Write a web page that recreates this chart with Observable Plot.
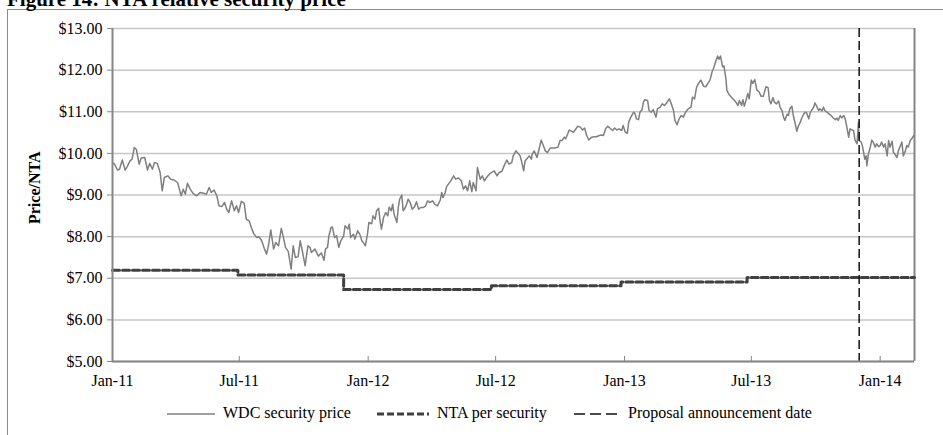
<!DOCTYPE html>
<html><head><meta charset="utf-8">
<script src="https://cdn.jsdelivr.net/npm/d3@7"></script>
<script src="https://cdn.jsdelivr.net/npm/@observablehq/plot@0.6"></script>
<style>
body{margin:0;background:#fff;}
#wrap{position:relative;width:943px;height:435px;overflow:hidden;font-family:"Liberation Serif","Times New Roman",serif;color:#000;background:#fff;}
#title{position:absolute;left:7px;top:-11px;font-size:21px;font-weight:bold;line-height:21px;white-space:nowrap;z-index:2;}
#frame{position:absolute;left:7px;top:9px;width:980px;height:480px;border-top:1.5px solid #8c8c8c;border-left:1.5px solid #8c8c8c;z-index:1;}
#chart{position:absolute;left:0;top:0;z-index:3;}
#legend{position:absolute;top:403px;left:0;width:943px;height:22px;font-size:16px;z-index:3;}
#legend .it{position:absolute;top:0;display:flex;align-items:center;white-space:nowrap;}
#legend svg{margin-right:4px;}
</style></head>
<body>
<div id="wrap">
  <div id="frame"></div>
  <div id="title">Figure 14: NTA relative security price</div>
  <div id="chart"></div>
  <div id="legend"></div>
</div>
<script>
// ---- data ----
const startDate = "2011-01-01";
const endDate = "2014-02-19";
const announcementDate = "2013-12-02";

// day offsets since startDate and WDC security price
const priceDays = [0,3,7,10,14,18,21,25,28,31,34,38,41,46,50,53,57,60,64,68,71,74,79,83,88,93,98,101,104,107,111,115,120,125,130,134,138,141,145,149,152,156,160,163,166,170,174,177,180,184,188,191,195,199,202,206,209,213,217,220,223,226,230,233,237,241,244,247,251,255,258,261,265,268,271,275,279,282,
284,289,294,298,302,304,307,309,312,314,317,320,323,326,330,332,336,338,340,344,346,350,353,356,358,361,364,366,370,372,375,377,380,382,384,387,390,393,395,398,400,402,406,408,410,413,415,418,420,422,425,428,431,434,437,440,444,447,450,453,457,460,464,468,470,472,475,477,479,483,487,490,494,498,501,504,507,510,513,515,519,521,525,528,531,534,538,541,545,549,552,556,559,563,566,570,
572,576,578,582,584,587,589,591,595,598,599,602,606,609,612,615,618,621,625,628,632,636,639,642,645,647,650,652,656,658,660,664,668,671,674,677,680,684,688,691,695,698,701,704,707,710,714,717,720,723,727,729,732,735,737,740,744,746,748,751,753,756,758,760,764,766,769,772,776,778,782,785,788,791,795,797,801,803,806,809,812,815,818,822,826,828,831,834,837,840,844,847,850,853,856,
858,861,864,866,868,871,873,876,877,880,884,888,890,893,895,898,900,902,905,907,909,912,914,917,920,923,926,929,933,936,938,940,943,945,948,951,953,956,958,960,963,965,967,970,972,975,977,979,982,984,987,989,991,994,996,998,1001,1003,1006,1008,1010,1013,1015,1017,1020,1023,1026,1029,1032,1034,1036,1039,1041,1044,1046,1048,1051,1053,1056,1058,1060,1063,1065,1066,1069,1071,1074,1076,1077,1079,1082,1084,1086,1089,1091,1094,1096,1098,1101,1103,1106,1108,1110,1113,1115,1117,1120,1122,1125,1127,1129,1132,1134,1136,1139,1141,1144];
const prices = [9.78,9.74,9.60,9.62,9.84,9.60,9.68,9.82,9.86,10.14,10.10,9.74,9.89,9.90,9.60,9.76,9.62,9.78,9.76,9.54,9.10,9.42,9.46,9.38,9.36,9.30,8.98,9.14,9.02,9.28,9.14,9.04,8.98,9.06,9.04,9.02,9.18,9.06,9.12,8.98,8.74,8.72,8.82,8.66,8.58,8.86,8.62,8.74,8.58,8.85,8.80,8.42,8.38,8.18,8.06,7.98,8.00,7.90,7.70,7.58,7.82,8.16,7.70,7.86,7.78,8.20,7.98,7.74,7.64,7.22,7.78,7.50,7.52,7.90,7.66,7.30,7.78,7.74,
7.62,7.70,7.53,7.61,7.43,7.70,7.74,8.02,8.22,8.23,7.98,8.02,7.74,7.90,8.02,8.26,8.18,8.30,7.98,8.06,7.94,8.14,8.06,7.90,7.86,7.78,8.06,8.34,8.31,8.50,8.42,8.62,8.68,8.38,8.18,8.46,8.58,8.50,8.71,8.62,8.78,8.54,8.34,8.70,8.90,9.00,8.62,8.70,8.78,8.90,8.82,8.66,8.71,8.84,8.66,8.70,8.70,8.74,8.86,8.82,8.86,8.78,8.74,8.88,9.06,8.94,9.06,9.20,9.25,9.34,9.46,9.38,9.41,9.34,9.14,9.22,9.10,9.34,9.08,9.30,9.10,9.66,9.38,9.46,9.34,9.42,9.50,9.54,9.58,9.46,9.54,9.57,9.70,9.84,9.74,9.78,
9.94,10.06,10.02,9.94,9.81,9.58,9.82,9.86,9.94,9.86,9.97,10.06,9.90,10.10,10.32,10.19,10.06,10.02,10.13,10.13,10.13,10.15,10.31,10.31,10.39,10.35,10.47,10.56,10.53,10.51,10.55,10.65,10.63,10.56,10.61,10.43,10.32,10.39,10.40,10.40,10.43,10.44,10.43,10.59,10.65,10.61,10.55,10.61,10.56,10.59,10.55,10.67,10.51,10.48,10.75,10.87,10.99,10.95,10.83,10.81,10.99,11.05,11.23,11.29,11.27,11.03,10.99,11.05,10.87,11.07,11.11,11.19,11.15,11.21,11.31,11.23,11.03,10.79,10.69,10.83,10.91,10.87,10.99,11.07,11.11,11.35,11.31,11.60,11.69,11.76,11.61,11.60,11.68,11.76,11.96,
12.04,12.20,12.34,12.26,12.34,12.08,12.10,11.76,11.52,11.42,11.34,11.27,11.23,11.15,11.27,11.15,11.29,11.13,11.31,11.44,11.31,11.76,11.68,11.77,11.52,11.48,11.37,11.37,11.60,11.58,11.27,11.19,11.34,11.23,11.19,11.26,11.11,11.02,10.87,10.79,10.94,10.91,11.07,11.13,10.91,10.69,10.53,10.65,10.75,10.85,10.95,10.99,10.97,10.83,10.97,11.03,11.11,11.21,11.11,11.03,11.07,11.02,11.11,11.03,10.99,10.95,10.91,10.85,10.81,10.85,10.79,10.91,10.85,10.91,10.83,10.67,10.39,10.59,10.56,10.55,10.32,10.23,10.75,10.31,10.27,10.15,9.86,9.94,9.70,9.97,10.16,10.32,10.27,10.15,10.23,10.16,10.19,10.27,10.15,10.23,9.94,10.31,10.15,10.29,10.02,9.98,9.90,10.06,10.19,10.27,9.94,10.06,10.19,10.15,10.31,10.35,10.43];

// NTA per security (step series)
const ntaDates = ["2011-01-01","2011-06-29","2011-11-27","2012-06-25","2012-12-27","2013-06-25","2014-02-19"];
const ntaValues = [7.19,7.08,6.73,6.82,6.91,7.02,7.02];

// axis ticks
const xTickDates = ["2011-01-01","2011-07-01","2012-01-01","2012-07-01","2013-01-01","2013-07-01","2014-01-01"];
const yTicks = [5,6,7,8,9,10,11,12,13];

// legend labels
const legendLabels = ["WDC security price","NTA per security","Proposal announcement date"];

// ---- build ----
const parse = d3.utcParse("%Y-%m-%d");
const t0 = parse(startDate), t1 = parse(endDate);
const priceData = priceDays.map((d,i)=>({date:d3.utcDay.offset(t0,d), value:prices[i]}));
const ntaData = ntaDates.map((d,i)=>({date:parse(d), value:ntaValues[i]}));
const xTicks = xTickDates.map(parse);
const ann = parse(announcementDate);

const font = '"Liberation Serif","Times New Roman",serif';
const chart = Plot.plot({
  width: 943, height: 395,
  marginLeft: 112, marginRight: 29, marginTop: 28, marginBottom: 34,
  style: {fontFamily: font, fontSize: "16px", color: "#000", background: "transparent", overflow: "visible"},
  x: {type: "utc", domain: [t0, t1]},
  y: {domain: [5, 13]},
  marks: [
    Plot.gridY(yTicks, {stroke: "#c6c6c6", strokeOpacity: 1, strokeWidth: 1.5}),
    Plot.ruleX([t1], {stroke: "#858585", strokeWidth: 2}),
    Plot.axisY(yTicks, {tickFormat: d => "$" + d.toFixed(2), tickSize: 5, tickPadding: 5, stroke: "#858585", fill: "#000", fontSize: 16, label: null}),
    Plot.axisX(xTicks, {tickFormat: d3.utcFormat("%b-%y"), tickSize: 0, tickPadding: 13, fill: "#000", fontSize: 16, label: null}),
    Plot.axisX(xTicks, {tickSize: -5, text: null, stroke: "#858585", label: null}),
    Plot.line(priceData, {x: "date", y: "value", stroke: "#7f7f7f", strokeWidth: 1.5}),
    Plot.line(ntaData, {x: "date", y: "value", curve: "step-after", stroke: "#404040", strokeWidth: 3, strokeDasharray: "7,3"}),
    Plot.ruleX([ann], {stroke: "#111", strokeWidth: 1.5, strokeDasharray: "9,4"}),
    Plot.ruleY([5], {stroke: "#858585", strokeWidth: 2}),
    Plot.ruleX([t0], {stroke: "#858585", strokeWidth: 2}),
    Plot.text(["Price/NTA"], {frameAnchor: "left", dx: -78, dy: 29, rotate: -90, fontWeight: "bold", fontSize: 16, fill: "#000"})
  ]
});
document.getElementById("chart").appendChild(chart);

// legend
const leg = document.getElementById("legend");
const legendItems = [
  {label: legendLabels[0], left: 167, w: 48, stroke: "#7f7f7f", sw: 1.4, dash: null},
  {label: legendLabels[1], left: 377, w: 52, stroke: "#404040", sw: 3, dash: "7,3"},
  {label: legendLabels[2], left: 574, w: 46, stroke: "#111", sw: 1.5, dash: "11,5"}
];
legendItems.forEach(it => {
  const div = document.createElement("div");
  div.className = "it";
  div.style.left = it.left + "px";
  const svg = d3.create("svg").attr("width", it.w + 4).attr("height", 20);
  svg.append("line").attr("x1", 0).attr("x2", it.w).attr("y1", 11).attr("y2", 11)
    .attr("stroke", it.stroke).attr("stroke-width", it.sw).attr("stroke-dasharray", it.dash);
  div.appendChild(svg.node());
  const span = document.createElement("span");
  span.textContent = it.label;
  div.appendChild(span);
  leg.appendChild(div);
});
</script>
</body></html>
